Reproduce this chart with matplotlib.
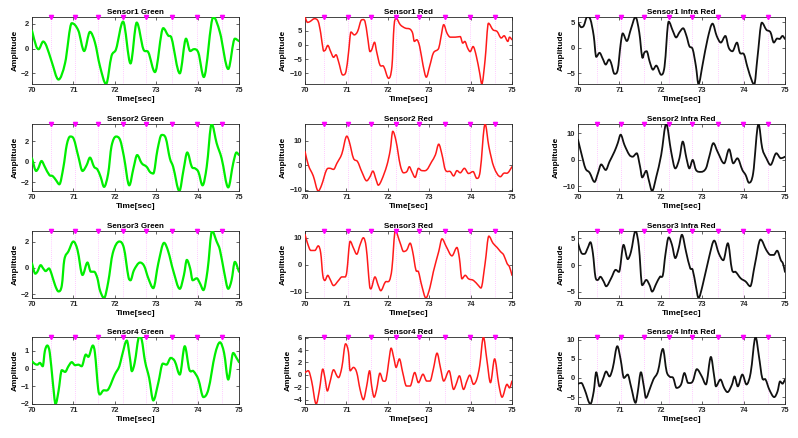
import matplotlib
matplotlib.use("Agg")
import matplotlib.pyplot as plt
from matplotlib.path import Path
from matplotlib.patches import PathPatch

# peak marker times (same in every panel)
PEAKS = [70.46, 71.04, 71.59, 72.19, 72.76, 73.37, 73.99, 74.58]

# ---- Sensor1 ----
G1_T = [70, 70.1, 70.16, 70.27, 70.35, 70.47, 70.64, 70.8, 70.96, 71.12, 71.26, 71.4, 71.52, 71.64,
        71.79, 71.92, 72.03, 72.2, 72.38, 72.53, 72.69, 72.81, 72.97, 73.17, 73.29, 73.37, 73.57,
        73.72, 73.82, 73.91, 74.02, 74.15, 74.38, 74.54, 74.74, 74.9, 75]
G1_V = [1.45, 0.2, -0.05, 0.57, 0.2, -1.0, -2.5, -1.15, 2.05, 1.45, -0.2, 1.35, 0.5, -1.4,
        -2.86, -0.6, -0.05, 2.18, -1.2, 2.1, -0.05, -0.3, -1.9, 1.65, 1.05, 0.85, -2.0,
        0.8, -0.2, -0.05, -0.35, -2.3, 2.55, 1.3, -1.65, 0.8, 0.6]

R1_T = [70, 70.06, 70.12, 70.23, 70.32, 70.38, 70.44, 70.48, 70.55, 70.62, 70.69, 70.75, 70.81, 70.91,
        70.99, 71.05, 71.11, 71.19, 71.27, 71.37, 71.45, 71.51, 71.57, 71.61, 71.68, 71.73, 71.81,
        71.9, 72.02, 72.1, 72.15, 72.2, 72.3, 72.42, 72.54, 72.6, 72.64, 72.7, 72.77, 72.85, 72.93,
        73.01, 73.1, 73.23, 73.28, 73.35, 73.43, 73.51, 73.63, 73.75, 73.81, 73.86, 73.93, 73.99,
        74.06, 74.14, 74.22, 74.27, 74.35, 74.43, 74.54, 74.64, 74.74, 74.81, 74.9, 74.94, 75]
R1_V = [9.8, 7.9, 8.2, 9.2, 8.2, 4.1, -1.8, -2.0, -0.2, -2.4, -4.4, -3.5, -5.9, -10.6,
        -9.4, -2.9, 4.5, 3.5, 4.7, 8.8, 8.2, 2.9, -2.4, -1.8, 0.9, -2.4, -7.1,
        -7.6, -11.8, -7.6, 6.5, 9.4, 7.1, 5.9, 5.5, 4.1, 1.2, 1.8, -0.6, -7.1, -11.4,
        -7.6, -2.9, -1.2, 2.4, 7.1, 4.1, 2.7, 2.7, 2.9, 0.6, 1.2, -1.2, -2.4,
        -0.6, -4.1, -10.0, -13.8, -5.3, 7.6, 5.3, 4.7, 2.4, 3.2, 1.2, 2.7, 1.8]

IR1_T = [70, 70.08, 70.14, 70.22, 70.3, 70.38, 70.44, 70.52, 70.6, 70.67, 70.75, 70.8, 70.88, 70.96,
         71.03, 71.08, 71.18, 71.28, 71.39, 71.48, 71.56, 71.6, 71.66, 71.73, 71.81, 71.89, 72.01,
         72.09, 72.19, 72.29, 72.37, 72.45, 72.54, 72.62, 72.69, 72.77, 72.85, 72.91, 73.01, 73.13,
         73.25, 73.35, 73.45, 73.56, 73.64, 73.73, 73.84, 73.91, 74.01, 74.09, 74.21, 74.26, 74.33,
         74.44, 74.55, 74.65, 74.73, 74.81, 74.87, 74.94, 75]
IR1_V = [4.9, 4.0, 4.3, 6.0, 5.5, 2.3, -1.8, -1.0, -2.2, -3.3, -2.3, -3.0, -5.1, -4.3,
         0.7, 2.8, 1.3, 3.7, 6.0, 3.0, -2.0, -1.0, -0.7, -2.7, -4.3, -3.5, -5.3,
         -3.7, 5.1, 3.3, 2.0, 3.0, 3.8, 2.3, 0.3, -0.3, -3.7, -7.1, -3.3, 1.7,
         4.7, 2.3, 1.0, 2.3, 0.0, -0.7, 1.0, -1.0, -1.3, -3.7, -6.7, -7.1, -2.3,
         4.9, 3.5, 3.0, 1.0, 1.8, 1.7, 2.3, 1.7]

# ---- Sensor2 ----
G2_T = [70, 70.1, 70.15, 70.23, 70.31, 70.42, 70.5, 70.58, 70.66, 70.76, 70.84, 70.92, 71.01, 71.12,
        71.22, 71.32, 71.4, 71.5, 71.58, 71.66, 71.74, 71.84, 71.92, 72.03, 72.13, 72.22, 72.35,
        72.45, 72.54, 72.65, 72.77, 72.85, 72.93, 73.03, 73.13, 73.23, 73.33, 73.41, 73.56, 73.66,
        73.75, 73.86, 73.94, 74.02, 74.12, 74.22, 74.34, 74.46, 74.58, 74.74, 74.86, 74.94, 75]
G2_V = [0.33, -0.9, -0.65, 0.07, -0.5, -1.3, -1.4, -1.8, -2.2, -0.5, 1.65, 2.45, 2.2, 0.5,
        -0.9, -0.33, 0.4, -0.5, -0.75, -1.5, -2.45, -1.15, 1.5, 2.45, 2.1, 0.5, -2.3,
        -0.65, 0.65, -0.15, -0.5, -1.0, -1.15, 1.15, 2.6, 2.3, 0.33, -0.5, -2.85, -0.8,
        0.9, -0.5, -0.65, -1.0, -2.3, -0.5, 3.67, 1.8, 0.33, -2.5, -0.15, 0.9, 0.65]

R2_T = [70, 70.08, 70.2, 70.32, 70.4, 70.52, 70.6, 70.69, 70.77, 70.89, 71.01, 71.07, 71.17, 71.27,
        71.37, 71.49, 71.57, 71.64, 71.72, 71.77, 71.85, 71.98, 72.06, 72.12, 72.2, 72.3, 72.38,
        72.46, 72.52, 72.58, 72.66, 72.74, 72.82, 72.94, 73.06, 73.15, 73.23, 73.31, 73.39, 73.51,
        73.59, 73.67, 73.75, 73.85, 73.95, 74.06, 74.15, 74.23, 74.35, 74.44, 74.56, 74.72, 74.8,
        74.9, 75]
R2_V = [5.7, 0.1, -4.4, -10.6, -8.2, -1.9, -1.25, -1.7, 0.8, 4.7, 12.0, 9.7, 2.9, 1.5,
        -2.6, -6.4, -4.7, -2.4, -6.1, -8.2, -6.1, 0.1, 6.4, 14.0, 9.9, 0.1, -3.1,
        -2.6, -0.6, -2.6, -5.0, -1.25, -2.2, -1.9, 1.5, 4.3, 8.7, 4.3, -1.9, -2.6,
        -4.4, -2.2, -3.1, -1.25, -3.4, -2.6, -5.4, -2.6, 17.0, 7.8, -0.6, -4.7, -3.3,
        -3.1, -0.6]

IR2_T = [70, 70.08, 70.18, 70.28, 70.4, 70.48, 70.56, 70.67, 70.76, 70.88, 70.96, 71.03, 71.12, 71.24,
         71.32, 71.42, 71.5, 71.55, 71.65, 71.71, 71.79, 71.89, 72.01, 72.13, 72.25, 72.35, 72.45,
         72.53, 72.62, 72.69, 72.77, 72.85, 72.97, 73.09, 73.17, 73.27, 73.37, 73.53, 73.65, 73.75,
         73.85, 73.97, 74.05, 74.13, 74.23, 74.36, 74.45, 74.55, 74.65, 74.79, 74.9, 75]
IR2_V = [7.5, 2.4, -3.3, -4.9, -8.4, -5.2, -1.8, -3.9, -0.8, 3.0, 6.2, 9.4, 5.6, 1.8,
         1.1, 2.4, -2.7, -6.7, -4.2, -7.7, -11.8, -6.5, 1.8, 13.4, 3.0, -3.3, 0.5,
         6.8, 0.5, -3.3, -0.1, -3.9, -4.6, -3.3, 1.1, 6.2, 3.0, -1.4, 3.9, -1.4,
         0.5, -3.9, -5.8, -8.7, -5.2, 13.4, 4.3, 0.5, -2.0, 2.4, 0.5, 1.1]

# ---- Sensor3 ----
G3_T = [70, 70.08, 70.13, 70.21, 70.27, 70.33, 70.41, 70.47, 70.56, 70.64, 70.72, 70.78, 70.88, 71.0,
        71.1, 71.22, 71.34, 71.42, 71.5, 71.58, 71.64, 71.74, 71.84, 71.95, 72.11, 72.22, 72.33,
        72.38, 72.46, 72.61, 72.71, 72.81, 72.93, 73.05, 73.19, 73.29, 73.41, 73.57, 73.67, 73.74,
        73.82, 73.88, 73.98, 74.06, 74.14, 74.24, 74.35, 74.46, 74.54, 74.64, 74.74, 74.82, 74.9, 75]
G3_V = [0.33, -0.45, -0.3, 0.2, -0.05, -0.25, -0.05, -0.45, -1.35, -1.8, -1.35, 0.6, 1.25, 2.0,
        1.35, -0.55, 0.4, -0.3, -0.3, -0.8, -1.7, -2.3, -1.1, 1.1, 2.0, 1.5, -0.7,
        -0.95, -0.2, 0.4, 0.13, -0.8, -1.55, 0.33, 1.9, 1.25, -0.2, -1.6, -0.55, 0.6,
        -0.05, -0.95, -0.8, -1.2, -1.7, -0.2, 2.8, 2.0, 1.35, -0.3, -1.6, -0.95, 0.45, -0.3]

R3_T = [70, 70.06, 70.14, 70.24, 70.32, 70.38, 70.43, 70.48, 70.55, 70.6, 70.69, 70.81, 70.89, 70.97,
        71.01, 71.09, 71.17, 71.25, 71.33, 71.41, 71.48, 71.56, 71.59, 71.69, 71.77, 71.83, 71.94,
        72.04, 72.1, 72.18, 72.3, 72.38, 72.46, 72.54, 72.6, 72.68, 72.74, 72.82, 72.92, 73.02,
        73.1, 73.23, 73.31, 73.41, 73.55, 73.67, 73.73, 73.79, 73.87, 73.95, 74.07, 74.19, 74.25,
        74.35, 74.44, 74.54, 74.64, 74.72, 74.8, 74.88, 74.94, 75]
R3_V = [11.2, 8.0, 5.3, 5.3, 7.0, 4.3, -3.9, -5.8, -3.9, -5.2, -7.7, -5.8, -4.5, -4.5,
        -2.6, 8.7, 6.2, 3.9, 7.4, 10.0, 6.2, -7.7, -8.9, -4.5, -7.7, -9.6, -6.4,
        -5.8, -1.4, 12.5, 8.0, 4.9, 5.5, 8.0, 4.9, -2.0, -2.6, -7.7, -12.3, -8.3,
        -2.6, 4.9, 9.6, 6.8, 3.3, 6.4, 2.4, -5.2, -3.9, -5.2, -5.8, -7.7, -8.6,
        0.5, 10.6, 8.0, 6.4, 4.9, 3.6, 0.5, -0.8, -3.9]

IR3_T = [70, 70.08, 70.16, 70.24, 70.3, 70.36, 70.42, 70.48, 70.54, 70.62, 70.68, 70.8, 70.91, 70.99,
         71.1, 71.2, 71.28, 71.39, 71.47, 71.55, 71.65, 71.73, 71.79, 71.89, 71.98, 72.05, 72.11,
         72.19, 72.27, 72.35, 72.43, 72.51, 72.61, 72.71, 72.77, 72.85, 72.91, 73.01, 73.17, 73.29,
         73.4, 73.51, 73.62, 73.72, 73.81, 73.93, 74.05, 74.16, 74.27, 74.41, 74.55, 74.65, 74.73,
         74.81, 74.9, 74.95, 75]
IR3_V = [4.1, 2.3, 2.1, 3.3, 4.3, 2.2, -2.2, -2.8, -2.2, -3.1, -4.0, -2.5, -0.9, -1.3,
         3.8, 1.1, 2.5, 6.4, 3.5, -3.8, -2.8, -3.8, -5.0, -3.5, -2.2, -1.9, 1.9,
         5.2, 3.8, 1.3, 3.1, 5.7, 2.5, -0.6, -0.9, -4.1, -6.2, -3.8, 1.6, 4.6,
         2.2, 0.9, 4.1, -0.9, -1.3, -2.5, -3.1, -4.0, 0.0, 4.8, 2.8, 1.9, 1.9,
         2.7, 0.9, 0.3, -1.3]

# ---- Sensor4 ----
G4_T = [70, 70.07, 70.13, 70.19, 70.26, 70.31, 70.37, 70.43, 70.5, 70.57, 70.64, 70.72, 70.8, 70.88,
        70.96, 71.04, 71.12, 71.2, 71.3, 71.36, 71.47, 71.52, 71.6, 71.64, 71.72, 71.84, 72.0,
        72.11, 72.17, 72.29, 72.37, 72.41, 72.48, 72.59, 72.65, 72.73, 72.83, 72.93, 73.05, 73.16,
        73.25, 73.35, 73.45, 73.57, 73.69, 73.8, 73.9, 74.02, 74.14, 74.26, 74.42, 74.54, 74.64,
        74.74, 74.86, 74.94, 75]
G4_V = [0.41, 0.26, 0.22, 0.32, 0.13, 0.98, 1.3, 0.88, -0.71, -2.0, -1.28, -0.09, -0.19, 0.13,
        0.36, 0.19, 0.22, 0.13, 0.79, 0.66, 1.3, 0.88, -1.18, -1.46, -1.24, -1.18, -0.34,
        0.13, 0.69, 1.58, 0.51, -0.15, 0.32, 1.78, 1.63, 0.41, -0.53, -1.8, -0.81, 0.28,
        0.22, 0.6, 0.41, -0.34, 1.26, -0.06, -0.15, -0.62, -1.61, -1.18, 0.79, 1.48, 0.88,
        -0.62, 0.88, 0.6, 0.36]

R4_T = [70, 70.08, 70.16, 70.27, 70.35, 70.43, 70.48, 70.54, 70.6, 70.69, 70.77, 70.81, 70.89, 70.98,
        71.05, 71.09, 71.17, 71.25, 71.33, 71.41, 71.49, 71.56, 71.61, 71.67, 71.73, 71.81, 71.89,
        71.96, 72.02, 72.08, 72.15, 72.2, 72.28, 72.36, 72.45, 72.54, 72.65, 72.74, 72.85, 72.94,
        73.02, 73.1, 73.19, 73.27, 73.35, 73.48, 73.59, 73.65, 73.73, 73.83, 73.91, 73.98, 74.07,
        74.15, 74.22, 74.31, 74.39, 74.48, 74.58, 74.68, 74.76, 74.88, 74.94, 75]
R4_V = [0.38, 0.66, -1.0, -4.7, -2.35, 0.93, -0.44, -2.6, -1.26, 0.82, -0.16, -0.44, 1.2, 5.0,
        3.66, 0.66, 1.2, 0.38, -2.35, -4.0, -1.8, 0.66, -1.8, -3.6, -2.35, 0.27, -1.0,
        -0.7, 2.0, 4.3, 2.57, 1.2, 2.57, 0.38, -1.8, -1.8, 0.38, -1.26, 0.1, -1.0,
        -1.0, 0.93, 3.5, 1.2, -1.0, 0.66, -2.35, -1.53, -0.16, -2.35, -1.0, -0.05, -1.53,
        -0.7, 1.47, 6.1, 2.57, -1.26, 2.57, -1.53, -3.6, -1.53, -2.1, -1.0]

IR4_T = [70, 70.08, 70.16, 70.3, 70.38, 70.44, 70.52, 70.6, 70.68, 70.76, 70.84, 70.95, 71.03, 71.11,
         71.2, 71.28, 71.39, 71.44, 71.52, 71.59, 71.64, 71.73, 71.82, 71.93, 72.05, 72.14, 72.22,
         72.3, 72.38, 72.49, 72.57, 72.66, 72.77, 72.87, 72.99, 73.09, 73.21, 73.29, 73.33, 73.44,
         73.53, 73.61, 73.72, 73.78, 73.86, 73.97, 74.07, 74.17, 74.29, 74.37, 74.45, 74.53, 74.62,
         74.74, 74.82, 74.88, 74.94, 75]
IR4_V = [-1.5, -1.3, -3.0, -6.8, -3.5, 1.5, -2.2, -0.4, 1.7, 0.4, 2.6, 8.3, 4.8, 0.0,
         0.9, -2.2, -6.5, -3.9, 1.5, -2.2, -5.2, -3.0, -0.4, 1.7, 7.6, 1.7, 0.3,
         0.0, -2.6, -1.7, 1.3, -1.3, -0.9, 2.3, 0.4, -1.7, 5.5, 0.4, -2.2, -0.4,
         -2.6, -3.7, -1.7, 0.4, -2.2, 0.9, -1.7, 1.3, 10.7, 5.7, 0.0, -0.4, -3.0,
         -5.0, -3.5, -0.9, -1.5, -0.4]

TITLES = [["Sensor1 Green", "Sensor1 Red", "Sensor1 Infra Red"],
          ["Sensor2 Green", "Sensor2 Red", "Sensor2 Infra Red"],
          ["Sensor3 Green", "Sensor3 Red", "Sensor3 Infra Red"],
          ["Sensor4 Green", "Sensor4 Red", "Sensor4 Infra Red"]]
SERIES = [[(G1_T, G1_V), (R1_T, R1_V), (IR1_T, IR1_V)],
          [(G2_T, G2_V), (R2_T, R2_V), (IR2_T, IR2_V)],
          [(G3_T, G3_V), (R3_T, R3_V), (IR3_T, IR3_V)],
          [(G4_T, G4_V), (R4_T, R4_V), (IR4_T, IR4_V)]]
YTICKS = [[[-2, 0, 2], [-10, -5, 0, 5], [-5, 0, 5]],
          [[-2, 0, 2], [-10, 0, 10], [-10, 0, 10]],
          [[-2, 0, 2], [-10, 0, 10], [-5, 0, 5]],
          [[-2, -1, 0, 1], [-4, -2, 0, 2, 4, 6], [-5, 0, 5, 10]]]
COLORS = ["#00ee00", "#ff1a1a", "#111111"]
WIDTHS = [1.6, 1.1, 1.3]


def smooth_path(t, v):
    # cubic Bezier segments through the read points, flat tangent at turning points
    n = len(t)
    slope = []
    for i in range(n):
        if i == 0:
            s = (v[1] - v[0]) / (t[1] - t[0])
        elif i == n - 1:
            s = (v[-1] - v[-2]) / (t[-1] - t[-2])
        elif (v[i] - v[i - 1]) * (v[i + 1] - v[i]) <= 0:
            s = 0.0
        else:
            s = (v[i + 1] - v[i - 1]) / (t[i + 1] - t[i - 1])
        slope.append(s)
    verts, codes = [(t[0], v[0])], [Path.MOVETO]
    for i in range(n - 1):
        h = (t[i + 1] - t[i]) / 3
        verts += [(t[i] + h, v[i] + slope[i] * h),
                  (t[i + 1] - h, v[i + 1] - slope[i + 1] * h),
                  (t[i + 1], v[i + 1])]
        codes += [Path.CURVE4] * 3
    return Path(verts, codes)


plt.rcParams["font.family"] = ["Liberation Sans", "DejaVu Sans"]
plt.rcParams["font.weight"] = "bold"
fig = plt.figure(figsize=(7.98, 4.38), dpi=100)

lefts = [32, 305, 578]
tops = [17, 124, 231, 337]
W, H = 207, 67
for r in range(4):
    for c in range(3):
        ax = fig.add_axes([lefts[c] / 798, 1 - (tops[r] + H) / 438, W / 798, H / 438])
        t, v = SERIES[r][c]
        lo, hi = min(v), max(v)
        ax.add_patch(PathPatch(smooth_path(t, v), fill=False, edgecolor=COLORS[c],
                               lw=WIDTHS[c], capstyle="round", joinstyle="round", zorder=3))
        ax.vlines(PEAKS, lo, hi, colors="#ff99ff", linestyles=(0, (1, 2)), lw=0.5, zorder=2)
        ax.plot(PEAKS, [hi] * len(PEAKS), "v", color="#ff00ff", ms=3.0, mec="#ff00ff",
                clip_on=False, zorder=4)
        ax.set_xlim(70, 75)
        ax.set_ylim(lo, hi)
        ax.set_xticks([70, 71, 72, 73, 74, 75])
        ax.set_yticks(YTICKS[r][c])
        ax.tick_params(direction="in", length=2, width=0.5, labelsize=5.5, pad=2,
                       top=True, right=True, colors="#262626")
        for lab in ax.get_xticklabels() + ax.get_yticklabels():
            lab.set_fontweight("bold")
        for s in ax.spines.values():
            s.set_linewidth(0.6)
            s.set_color("#262626")
        ax.set_title(TITLES[r][c], fontsize=5.8, fontweight="bold", pad=2.5)
        ax.set_xlabel("Time[sec]", fontsize=6, fontweight="bold", labelpad=1.5)
        ax.set_ylabel("Amplitude", fontsize=6, fontweight="bold", labelpad=1.5)

fig.savefig("out.png", dpi=100)
